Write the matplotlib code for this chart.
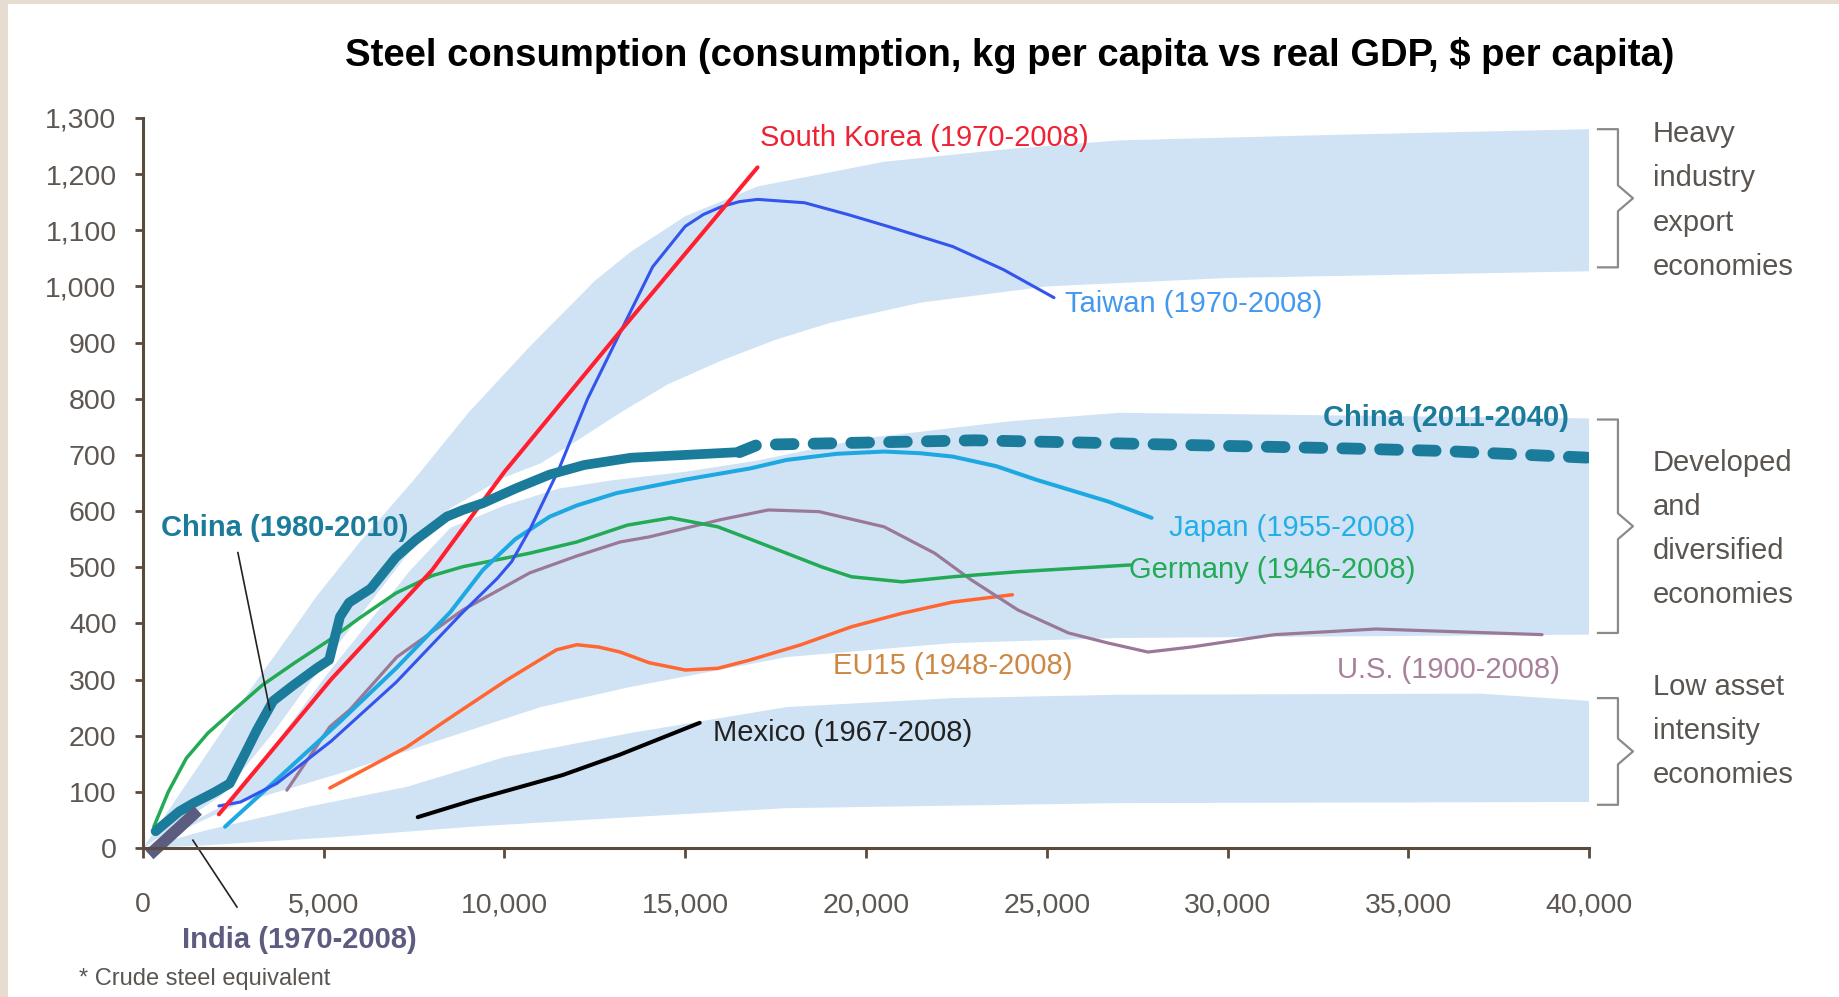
import matplotlib
matplotlib.use("Agg")
import matplotlib.pyplot as plt
import matplotlib.transforms as mtransforms
from matplotlib.patches import Rectangle

# real GDP per capita ($) vs steel consumption (kg per capita)
china_x = [350, 1000, 1400, 2000, 2400, 2800, 3150, 3600, 4100, 4800, 5150, 5450, 5700,
           6300, 7000, 7550, 8400, 8850, 9400, 10300, 11250, 12200, 13500, 15000, 16500]
china_y = [30, 65, 80, 100, 115, 165, 210, 262, 287, 320, 335, 412, 437,
           462, 518, 549, 590, 602, 614, 640, 665, 682, 695, 700, 705]
china_fc_x = [16500, 17000, 20000, 23000, 26000, 30000, 33000, 36000, 40000]
china_fc_y = [705, 718, 722, 726, 722, 716, 712, 707, 695]
korea_x = [2100, 5200, 8000, 10000, 13200, 17000]
korea_y = [60, 300, 495, 670, 920, 1212]
taiwan_x = [2100, 2700, 3700, 5200, 7000, 8850, 9800, 10200, 10700, 11500, 12300, 13200,
            14100, 15000, 15500, 16000, 16500, 17000, 18300, 19500, 20600, 22400, 23800, 25200]
taiwan_y = [75, 82, 115, 190, 295, 420, 480, 510, 567, 674, 800, 918,
            1035, 1107, 1128, 1142, 1151, 1155, 1149, 1128, 1107, 1071, 1030, 980]
japan_x = [2270, 3600, 5450, 7000, 8500, 9400, 10300, 11250, 12000, 13100, 15000, 16800,
           17800, 19200, 20500, 21500, 22400, 23600, 24700, 26700, 27900]
japan_y = [38, 116, 225, 320, 420, 495, 550, 590, 610, 632, 656, 676,
           691, 702, 706, 703, 697, 680, 656, 617, 588]
germany_x = [300, 700, 1200, 1800, 2500, 3300, 4200, 5170, 6000, 7000, 8000, 8850, 10700,
             12000, 13400, 14600, 15900, 16800, 17800, 18800, 19600, 21000, 22400, 24200, 27300]
germany_y = [38, 100, 160, 205, 245, 290, 330, 371, 410, 454, 485, 501, 525,
             545, 575, 588, 572, 550, 525, 500, 483, 474, 483, 492, 504]
us_x = [3980, 5170, 5720, 7020, 8850, 10700, 12000, 13200, 14000, 16000, 17300, 18700, 20500,
        21900, 22900, 24200, 25600, 26700, 27800, 29000, 31300, 34100, 36400, 38700]
us_y = [103, 216, 246, 340, 424, 490, 520, 545, 554, 585, 602, 599, 572,
        525, 478, 424, 383, 365, 349, 358, 380, 390, 385, 380]
eu_x = [5170, 7300, 8680, 10060, 11000, 11440, 12000, 12600, 13200, 14000, 15000, 15900,
        16800, 18200, 19600, 21000, 22400, 24050]
eu_y = [107, 180, 240, 299, 336, 353, 362, 358, 349, 330, 317, 320,
        335, 362, 394, 418, 438, 451]
mexico_x = [7600, 9120, 11610, 13180, 15400]
mexico_y = [55, 85, 130, 166, 223]
india_x = [300, 1400]
india_y = [-5, 60]

# bands: upper and lower edges
heavy_up_x = [0, 1000, 2000, 3000, 4000, 4800, 6000, 7500, 9000, 10700, 12500, 13500, 15000,
              17000, 20500, 24000, 27000, 33000, 40000]
heavy_up_y = [0, 95, 190, 285, 375, 448, 545, 656, 775, 893, 1010, 1062, 1125,
              1178, 1222, 1245, 1260, 1270, 1280]
heavy_lo_x = [0, 2200, 3600, 5100, 7400, 8500, 10000, 11000, 12000, 13200, 14500, 16000,
              17500, 19000, 21500, 25000, 30000, 40000]
heavy_lo_y = [0, 95, 205, 338, 530, 605, 660, 685, 725, 775, 825, 868,
              905, 935, 971, 1000, 1015, 1027]
dev_up_x = [0, 2200, 3600, 5100, 7400, 8500, 10000, 11500, 13000, 15000, 17000, 20000,
            24000, 27000, 40000]
dev_up_y = [0, 75, 180, 310, 495, 570, 610, 640, 655, 670, 690, 730, 760, 775, 765]
dev_lo_x = [0, 2700, 5450, 8200, 11000, 13500, 17800, 22400, 27000, 40000]
dev_lo_y = [0, 80, 133, 192, 251, 287, 340, 365, 374, 380]
low_up_x = [0, 1770, 4530, 7300, 10000, 13500, 17800, 22400, 27000, 37000, 40000]
low_up_y = [0, 32, 73, 109, 162, 205, 251, 267, 273, 275, 262]
low_lo_x = [0, 1770, 5450, 9100, 13500, 17800, 27000, 40000]
low_lo_y = [0, 5, 20, 38, 55, 71, 80, 82]

x_ticks = [0, 5000, 10000, 15000, 20000, 25000, 30000, 35000, 40000]
y_ticks = list(range(0, 1301, 100))

band_c = '#d0e3f5'
teal = '#1b7b9b'
axis_c = '#5b4b3e'
tick_c = '#5e5650'

plt.rcParams['font.family'] = ['Liberation Sans', 'DejaVu Sans']

fig = plt.figure(figsize=(18.4, 9.97), dpi=100, facecolor='#e6dccf')
fig.patches.append(Rectangle((0.0045, 0), 1, 0.996, transform=fig.transFigure,
                             facecolor='white', edgecolor='none', zorder=-10))
ax = fig.add_axes([0.0777, 0.1494, 0.7859, 0.7323])
ax.set_facecolor('none')

for ux, uy, lx, ly in [(heavy_up_x, heavy_up_y, heavy_lo_x, heavy_lo_y),
                       (dev_up_x, dev_up_y, dev_lo_x, dev_lo_y),
                       (low_up_x, low_up_y, low_lo_x, low_lo_y)]:
    ax.fill(ux + lx[::-1], uy + ly[::-1], color=band_c, lw=0, zorder=1)

kw = dict(solid_joinstyle='round', solid_capstyle='round')
ax.plot(eu_x, eu_y, color='#ff6630', lw=2.5, zorder=3, **kw)
ax.plot(mexico_x, mexico_y, color='black', lw=2.9, zorder=3, **kw)
ax.plot(us_x, us_y, color='#9a7898', lw=2.3, zorder=3, **kw)
ax.plot(germany_x, germany_y, color='#22aa55', lw=2.5, zorder=3, **kw)
ax.plot(japan_x, japan_y, color='#1ea8e2', lw=2.9, zorder=3, **kw)
ax.plot(taiwan_x, taiwan_y, color='#3355ee', lw=2.2, zorder=4, **kw)
ax.plot(korea_x, korea_y, color='#ff1f2f', lw=2.9, zorder=4, **kw)
ax.plot(china_x, china_y, color=teal, lw=7, zorder=5, **kw)
ax.plot(china_fc_x, china_fc_y, color=teal, lw=8.5, dashes=(1.5, 1.7),
        dash_capstyle='round', zorder=5)
ax.plot(india_x, india_y, color='#5c5c80', lw=8.5, zorder=6, clip_on=False)

# labels
lab = 21
ax.text(17055, 1265, 'South Korea (1970-2008)', color='#ee2233', fontsize=lab, va='center')
ax.text(25510, 969, 'Taiwan (1970-2008)', color='#4499ee', fontsize=lab, va='center')
ax.text(39440, 766, 'China (2011-2040)', color=teal, fontsize=lab, va='center',
        ha='right', fontweight='bold')
ax.text(500, 570, 'China (1980-2010)', color=teal, fontsize=lab, va='center',
        fontweight='bold')
ax.text(28390, 570, 'Japan (1955-2008)', color='#22aee6', fontsize=lab, va='center')
ax.text(27280, 495, 'Germany (1946-2008)', color='#22aa55', fontsize=lab, va='center')
ax.text(19100, 324, 'EU15 (1948-2008)', color='#cc8844', fontsize=lab, va='center')
ax.text(33030, 317, 'U.S. (1900-2008)', color='#a8809a', fontsize=lab, va='center')
ax.text(15760, 205, 'Mexico (1967-2008)', color='#222222', fontsize=lab, va='center')
ax.text(1078, -164, 'India (1970-2008)', color='#5c5c80', fontsize=lab, va='center',
        fontweight='bold', clip_on=False)
ax.plot([2626, 3510], [526, 246], color='#222222', lw=1.2, zorder=6)
ax.plot([1380, 2600], [14, -105], color='#222222', lw=1.2, zorder=6, clip_on=False)

# group braces on the right: bracket top, bracket bottom, text centre, text
bt = mtransforms.blended_transform_factory(ax.transAxes, ax.transData)
groups = [(1280, 1034, 1153, 'Heavy\nindustry\nexport\neconomies'),
          (763, 383, 568, 'Developed\nand\ndiversified\neconomies'),
          (267, 77, 209, 'Low asset\nintensity\neconomies')]
for top, bot, ty, txt in groups:
    mid = (top + bot) / 2
    ax.plot([1.0062, 1.020, 1.020, 1.0304, 1.020, 1.020, 1.0062],
            [top, top, mid + 23, mid, mid - 23, bot, bot],
            color='#8a8a8a', lw=1.6, transform=bt, clip_on=False)
    ax.text(1.044, ty, txt, transform=bt, fontsize=lab, color='#5a5550',
            va='center', ha='left', linespacing=1.73)

ax.set_xlim(0, 40000)
ax.set_ylim(0, 1300)
ax.set_xticks(x_ticks)
ax.set_xticklabels(['{:,}'.format(v) for v in x_ticks])
ax.set_yticks(y_ticks)
ax.set_yticklabels(['{:,}'.format(v) for v in y_ticks])
for s in ['top', 'right']:
    ax.spines[s].set_visible(False)
for s in ['left', 'bottom']:
    ax.spines[s].set_color(axis_c)
    ax.spines[s].set_linewidth(2.2)
    ax.spines[s].set_zorder(7)
ax.tick_params(axis='y', direction='out', length=6, width=2, color=axis_c,
               labelsize=20.5, labelcolor=tick_c, pad=13)
ax.tick_params(axis='x', direction='out', length=7, width=2, color=axis_c,
               labelsize=20.5, labelcolor=tick_c, pad=25)

fig.text(0.549, 0.944, 'Steel consumption (consumption, kg per capita vs real GDP, $ per capita)',
         ha='center', va='center', fontsize=27.5, fontweight='bold', color='black')
fig.text(0.043, 0.018, '* Crude steel equivalent', ha='left', va='center',
         fontsize=17, color='#5a5550')

fig.savefig('out.png', dpi=100, facecolor=fig.get_facecolor())
